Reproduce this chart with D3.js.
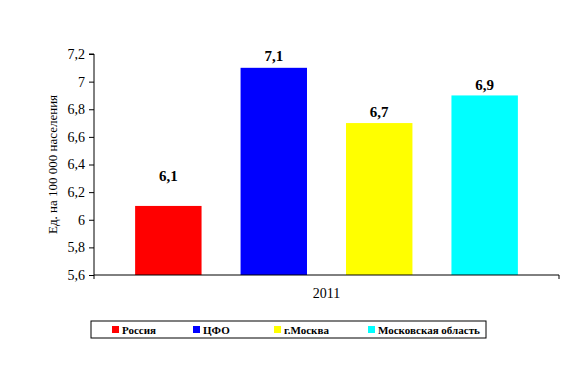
<!DOCTYPE html>
<html>
<head>
<meta charset="utf-8">
<script src="https://cdn.jsdelivr.net/npm/d3@7"></script>
<style>
  body { margin: 0; background: #fff; }
</style>
</head>
<body>
<div id="chart"></div>
<script>
// ---- DATA ----
var categories = ["2011"];
var seriesNames = ["Россия", "ЦФО", "г.Москва", "Московская область"];
var seriesValues = [6.1, 7.1, 6.7, 6.9];
var seriesColors = ["#ff0000", "#0000ff", "#ffff00", "#00ffff"];
var yTicks = [5.6, 5.8, 6.0, 6.2, 6.4, 6.6, 6.8, 7.0, 7.2];
var yTitle = "Ед. на 100 000 населения";

// ---- VARIABLES ----
var w = 587, h = 373;
var plotLeft = 94, plotRight = 559, plotTop = 54, plotBottom = 275;
var serif = "'Liberation Serif'";
var fmt = function(v) { return d3.format("~r")(v).replace(".", ","); };

var svg = d3.select("#chart").append("svg")
  .attr("width", w).attr("height", h);

// ---- SCALES ----
var yScale = d3.scaleLinear().domain([5.6, 7.2]).range([plotBottom, plotTop]);
var xGroup = d3.scaleBand().domain(categories).range([plotLeft, plotRight]);
var xSeries = d3.scaleBand().domain(seriesNames)
  .range([plotLeft, plotRight]).paddingInner(0.37).paddingOuter(0.39);

// ---- BARS ----
svg.selectAll(".bar")
  .data(seriesValues)
  .enter()
  .append("rect")
  .attr("class", "bar")
  .attr("x", function(d, i) { return xSeries(seriesNames[i]); })
  .attr("width", xSeries.bandwidth())
  .attr("y", function(d) { return yScale(d); })
  .attr("height", function(d) { return plotBottom - yScale(d); })
  .attr("fill", function(d, i) { return seriesColors[i]; });

// value labels (first one sits higher, as in the original)
var labelLift = [25, 7, 6, 5];
svg.selectAll(".vlabel")
  .data(seriesValues)
  .enter()
  .append("text")
  .attr("class", "vlabel")
  .attr("x", function(d, i) { return xSeries(seriesNames[i]) + xSeries.bandwidth() / 2; })
  .attr("y", function(d, i) { return yScale(d) - labelLift[i]; })
  .attr("text-anchor", "middle")
  .style("font-family", serif)
  .style("font-size", "15px")
  .style("font-weight", "bold")
  .text(function(d) { return fmt(d); });

// ---- AXES ----
var yAxis = d3.axisLeft(yScale).tickValues(yTicks).tickSize(5).tickPadding(4)
  .tickFormat(fmt);
var gy = svg.append("g")
  .attr("transform", "translate(" + plotLeft + ",0)")
  .call(yAxis);
gy.select(".domain").attr("d", "M-5," + plotTop + "H0V" + plotBottom);
gy.selectAll("text").style("font-family", serif).style("font-size", "14px").attr("fill", "#000");
gy.selectAll("line,path").attr("stroke", "#000");

var xAxis = d3.axisBottom(xGroup).tickSize(0).tickPadding(13);
var gx = svg.append("g")
  .attr("transform", "translate(0," + plotBottom + ")")
  .call(xAxis);
gx.select(".domain").attr("d", "M" + plotLeft + ",4V0H" + plotRight + "V4").attr("stroke", "#000");
gx.selectAll("text").style("font-family", serif).style("font-size", "14px").attr("fill", "#000");

// y title
svg.append("text")
  .attr("transform", "translate(57," + ((plotTop + plotBottom) / 2 + 0) + ") rotate(-90)")
  .attr("text-anchor", "middle")
  .style("font-family", serif)
  .style("font-size", "13px")
  .text(yTitle);

// ---- LEGEND ----
var legend = svg.append("g");
legend.append("rect")
  .attr("x", 91).attr("y", 321).attr("width", 395).attr("height", 17)
  .attr("fill", "#fff").attr("stroke", "#000").attr("stroke-width", 1);
var legendX = [112, 193, 274, 368];
var items = legend.selectAll(".item")
  .data(seriesNames)
  .enter()
  .append("g")
  .attr("transform", function(d, i) { return "translate(" + legendX[i] + ",326)"; });
items.append("rect")
  .attr("width", 7).attr("height", 7)
  .attr("fill", function(d, i) { return seriesColors[i]; });
items.append("text")
  .attr("x", 10).attr("y", 7.5)
  .style("font-family", serif)
  .style("font-size", "11px")
  .style("font-weight", "bold")
  .text(function(d) { return d; });
</script>
</body>
</html>
